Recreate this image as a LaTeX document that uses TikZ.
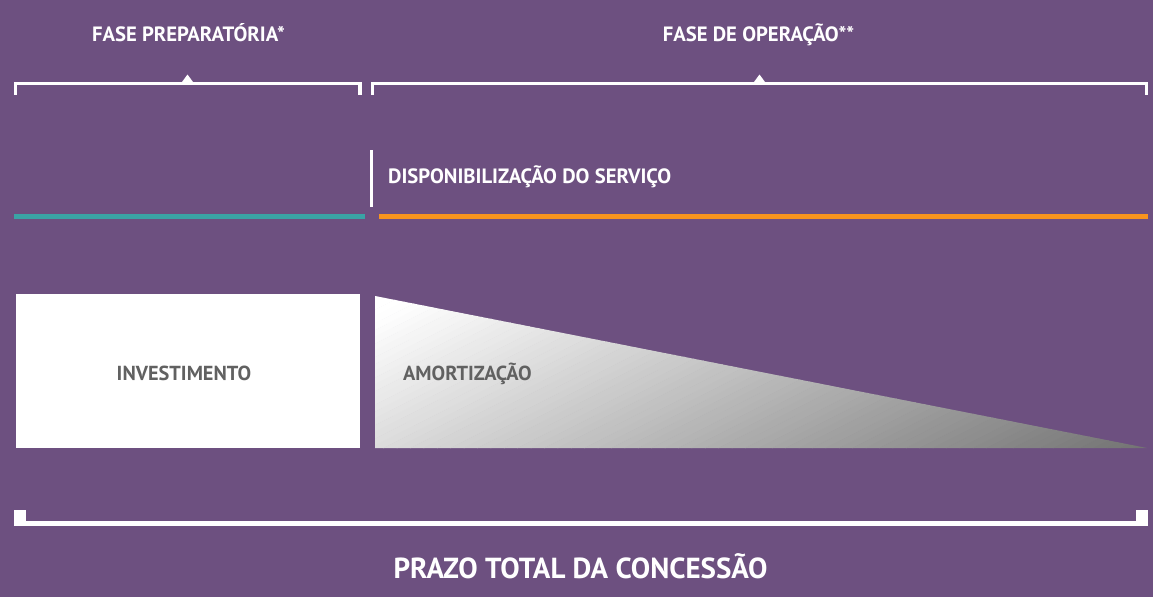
\documentclass[tikz,border=0pt]{standalone}
\usepackage{fontspec}
\setmainfont{PT Sans}
\definecolor{roxo}{HTML}{6D5080}
\definecolor{verdeazul}{HTML}{3AA3A5}
\definecolor{laranja}{HTML}{F7941E}
\definecolor{cinzatexto}{HTML}{616161}
\definecolor{cinzafundo}{HTML}{737373}
\begin{document}
\begin{tikzpicture}[x=1pt, y=-1pt,
    chave/.style={white, line width=3.3pt, line join=miter},
    titulo/.style={white, font=\bfseries\fontsize{20.7}{24}\selectfont, anchor=base, inner sep=0pt},
    rotulo/.style={cinzatexto, font=\bfseries\fontsize{20.3}{24}\selectfont, inner sep=0pt}]
  \fill[roxo] (0, 0) rectangle (1153, 597);
  \useasboundingbox (0, 0) rectangle (1153, 597);
  % fases
  \node[titulo] (prep) at (188.5, 41) {FASE PREPARATÓRIA*};
  \node[titulo] (oper) at (758.5, 41) {FASE DE OPERAÇÃO**};
  \draw[chave] (15.7, 94.7) |- (359.9, 83.5) -- (359.9, 94.7);
  \draw[chave] (372.7, 94.7) |- (1146.3, 83.5) -- (1146.3, 94.7);
  \fill[white] (182, 82) -- (187.5, 74.5) -- (193, 82) -- cycle;
  \fill[white] (754, 82) -- (759.5, 74.5) -- (765, 82) -- cycle;
  % servico
  \draw[white, line width=3.3pt] (371.7, 150) -- (371.7, 207);
  \node[titulo, anchor=base west] (servico) at (388, 183.3) {DISPONIBILIZAÇÃO DO SERVIÇO};
  \draw[verdeazul, line width=5.3pt] (14, 216.5) -- (365, 216.5);
  \draw[laranja, line width=5.3pt] (379, 216.5) -- (1148, 216.5);
  % investimento e amortizacao
  \fill[white] (16, 294) rectangle (360, 448);
  \begin{scope}
    \clip (375, 296) -- (1147, 448) -- (375, 448) -- cycle;
    \foreach \k in {0,...,79} {
      \pgfmathsetmacro\ta{\k/80*1072}
      \pgfmathsetmacro\tb{(\k+1)/80*1072+1}
      \pgfmathsetmacro\cor{max(0, 100*((\k+0.5)/80-0.04)/0.96)}
      \fill[cinzafundo!\cor!white] (375+\ta, 296) -- (375+\tb, 296) -- (375+\tb-300, 448) -- (375+\ta-300, 448) -- cycle;
    }
  \end{scope}
  \node[rotulo, anchor=base] (invest) at (184, 380) {INVESTIMENTO};
  \node[rotulo, anchor=base west] (amort) at (403, 380) {AMORTIZAÇÃO};
  % prazo total
  \draw[white, line width=4.7pt] (14, 523.3) -- (1148, 523.3);
  \fill[white] (14, 510) rectangle (26, 525.7);
  \fill[white] (1136, 510) rectangle (1148, 525.7);
  \node[titulo, font=\bfseries\fontsize{29}{32}\selectfont] (prazo) at (580.5, 578.3) {PRAZO TOTAL DA CONCESSÃO};
\end{tikzpicture}
\end{document}
